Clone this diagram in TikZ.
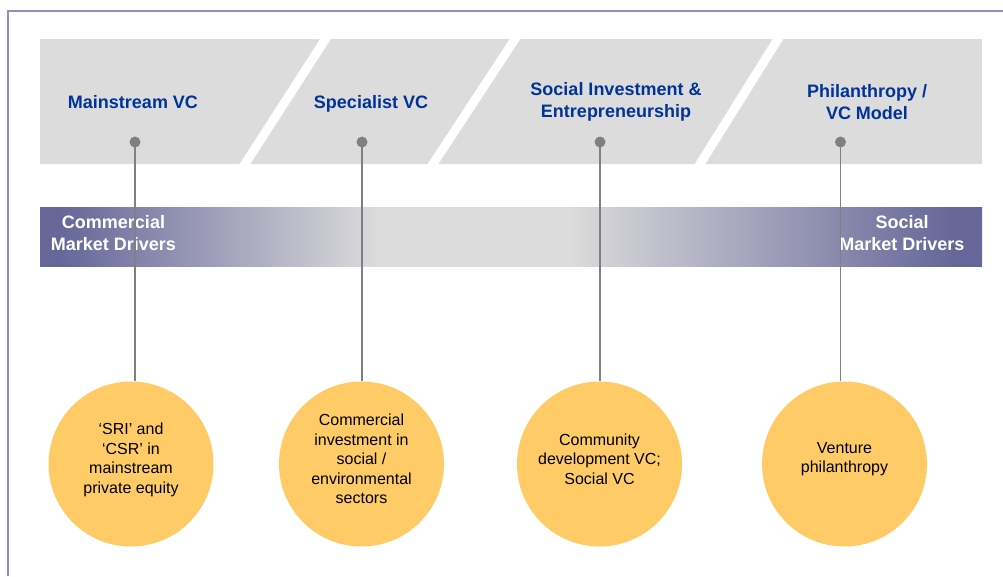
\documentclass[tikz,border=0pt]{standalone}
\usepackage{fontspec}
\setmainfont{Liberation Sans}
\definecolor{bandgrey}{HTML}{DCDCDC}
\definecolor{purp}{HTML}{666699}
\definecolor{lgrey}{HTML}{DCDCDC}
\definecolor{navy}{HTML}{003399}
\definecolor{dotgrey}{HTML}{808080}
\definecolor{sun}{HTML}{FECB66}
\definecolor{frame}{HTML}{9090C0}
\pgfdeclarehorizontalshading{bandshade}{100bp}{color(0bp)=(purp); color(26bp)=(purp); color(43bp)=(lgrey); color(53bp)=(lgrey); color(73.5bp)=(purp); color(100bp)=(purp)}
\tikzset{
  seg/.style={fill=bandgrey, draw=none},
  toplabel/.style={text=navy, font=\fontsize{18}{22}\selectfont\bfseries, align=center, inner sep=0pt},
  bandlabel/.style={text=white, font=\fontsize{18}{22}\selectfont\bfseries, align=center, inner sep=0pt},
  dotnode/.style={circle, fill=dotgrey, minimum size=11pt, inner sep=0pt},
  conn/.style={draw=dotgrey, line width=1.6pt},
  bubble/.style={circle, fill=sun, minimum size=165pt, inner sep=0pt},
  bubbletext/.style={font=\fontsize{16}{19.5}\selectfont, align=center, inner sep=0pt, text=black}
}
\begin{document}
\begin{tikzpicture}[x=1pt, y=-1pt]
\useasboundingbox (0,0) rectangle (1003,576);
% frame
\draw[frame, line width=1.8pt] (8,576) -- (8,11) -- (1003,11);
% top segments
\fill[seg] (40,39) -- (320,39) -- (239.5,164) -- (40,164) -- cycle;
\fill[seg] (331,39) -- (509.5,39) -- (427.5,164) -- (250.5,164) -- cycle;
\fill[seg] (520.5,39) -- (772.5,39) -- (694.5,164) -- (438.5,164) -- cycle;
\fill[seg] (783.5,39) -- (982,39) -- (982,164) -- (705.5,164) -- cycle;
\node[toplabel, anchor=base] (t1) at (133,108.5) {Mainstream VC};
\node[toplabel, anchor=base] (t2) at (371,108.5) {Specialist VC};
\node[toplabel] (t3) at (616,102) {Social Investment \&\\Entrepreneurship};
\node[toplabel] (t4) at (867,102) {Philanthropy /\\VC Model};
% band
\shade[shading=bandshade] (40,207) rectangle (982,266);
\node[bandlabel] (b1) at (113.5,233) {Commercial\\Market Drivers};
\node[bandlabel] (b2) at (902,233) {Social\\Market Drivers};
% bubbles
\node[bubble] (c1) at (131,464) {};
\node[bubble] (c2) at (361.5,464) {};
\node[bubble] (c3) at (599.5,464) {};
\node[bubble] (c4) at (844.5,464) {};
\node[bubbletext] (x1) at (131,460) {‘SRI’ and\\‘CSR’ in\\mainstream\\private equity};
\node[bubbletext] (x2) at (361.5,459) {Commercial\\investment in\\social /\\environmental\\sectors};
\node[bubbletext] (x3) at (599.5,459) {Community\\development VC;\\Social VC};
\node[bubbletext] (x4) at (844.5,459) {Venture\\philanthropy};
% dots
\node[dotnode] (d1) at (135,142) {};
\node[dotnode] (d2) at (362,142) {};
\node[dotnode] (d3) at (600,142) {};
\node[dotnode] (d4) at (840.5,142) {};
% connectors
\draw[conn] (d1.center) -- (d1 |- c1.north);
\draw[conn] (d2.center) -- (d2 |- c2.north);
\draw[conn] (d3.center) -- (d3 |- c3.north);
\draw[conn] (d4.center) -- (d4 |- c4.north);
\end{tikzpicture}
\end{document}
